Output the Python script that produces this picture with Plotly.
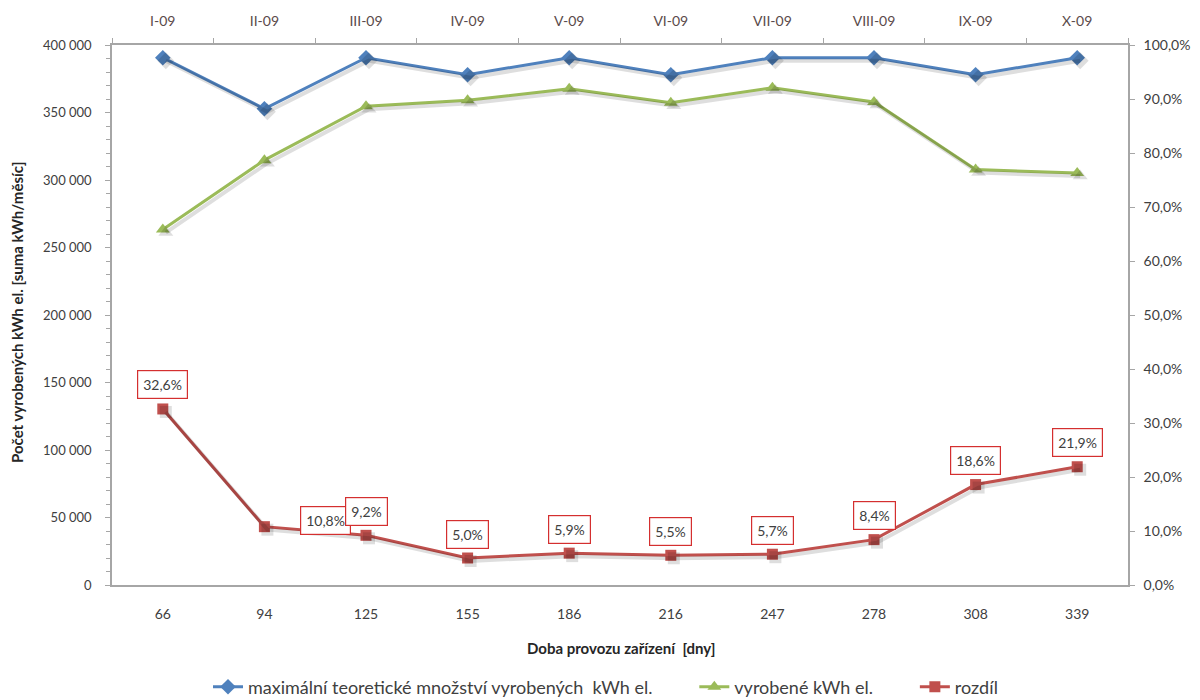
import plotly.graph_objects as go

# operating days (bottom axis) and months (top axis)
days = ["66", "94", "125", "155", "186", "216", "247", "278", "308", "339"]
months = ["I-09", "II-09", "III-09", "IV-09", "V-09", "VI-09", "VII-09", "VIII-09", "IX-09", "X-09"]

# kWh per month
max_kwh = [390600, 352800, 390600, 378000, 390600, 378000, 390600, 390600, 378000, 390600]
made_kwh = [263300, 314700, 354700, 359100, 367600, 357200, 368300, 357800, 307700, 305100]
# difference in percent (right axis)
diff_pct = [32.6, 10.8, 9.2, 5.0, 5.9, 5.5, 5.7, 8.4, 18.6, 21.9]

BLUE = "#4F81BD"
GREEN = "#9BBB59"
RED = "#C0504D"
AXIS = "#A6A6A6"
TXT = "#404040"
FONT = "Lato"

W, H = 1200, 700
L, R, T, B = 112, 69, 45, 112
PW = W - L - R
PH = H - T - B
SH = 3  # shadow offset in px

GAP = "\u00a0" * 8  # extra room between legend entries

fig = go.Figure()

series = [
    (max_kwh, "y", BLUE, "diamond", 12, "maximální teoretické množství vyrobených  kWh el." + GAP),
    (made_kwh, "y", GREEN, "triangle-up", 12, "vyrobené kWh el." + GAP),
    ([v / 100 for v in diff_pct], "y2", RED, "square", 11, "rozdíl"),
]

# soft drop shadows drawn on slightly offset axes
for vals, yax, col, sym, size, name in series:
    fig.add_trace(go.Scatter(
        x=days, y=vals, mode="lines+markers",
        xaxis="x3", yaxis="y3" if yax == "y" else "y4",
        line=dict(color="rgba(0,0,0,0.13)", width=4),
        marker=dict(symbol=sym, size=size + 1, color="rgba(0,0,0,0.13)"),
        showlegend=False, hoverinfo="skip",
    ))

for vals, yax, col, sym, size, name in series:
    fig.add_trace(go.Scatter(
        x=days, y=vals, mode="lines+markers", name=name, yaxis=yax,
        line=dict(color=col, width=3),
        marker=dict(symbol=sym, size=size, color=col),
    ))

# invisible trace to carry the month axis on top
fig.add_trace(go.Scatter(x=months, y=max_kwh, xaxis="x2", yaxis="y",
                         mode="markers", marker=dict(opacity=0),
                         showlegend=False, hoverinfo="skip"))

# value labels for the difference series
shifts = {1: (61, 6)}
for i, v in enumerate(diff_pct):
    xs, ys = shifts.get(i, (0, 24))
    fig.add_annotation(
        x=i, y=v / 100, xref="x", yref="y2",
        text=f"{v:.1f}".replace(".", ",") + "%",
        showarrow=False, xshift=xs, yshift=ys,
        bgcolor="white", bordercolor="#D42F2F", borderwidth=1.2, borderpad=5,
        font=dict(family=FONT, size=14, color=TXT),
    )

# axis titles
fig.add_annotation(
    x=(621 - L) / PW, y=-60 / PH, xref="paper", yref="paper",
    text="<b>Doba provozu zařízení  [dny]</b>", showarrow=False,
    font=dict(family=FONT, size=15, color="#262626"), xanchor="center", yanchor="middle",
)
fig.add_annotation(
    x=(17 - L) / PW, y=(1 - (313 - T) / PH), xref="paper", yref="paper",
    text="<b>Počet vyrobených kWh el. [suma kWh/měsíc]</b>", showarrow=False, textangle=-90,
    font=dict(family=FONT, size=15, color="#262626"), xanchor="center", yanchor="middle",
)

xdom = [0, (PW - SH) / PW]
ydom = [SH / PH, 1]
xdom_s = [SH / PW, 1]
ydom_s = [0, (PH - SH) / PH]

fig.update_layout(
    width=W, height=H,
    margin=dict(l=L, r=R, t=T, b=B, autoexpand=False),
    paper_bgcolor="white", plot_bgcolor="rgba(0,0,0,0)",
    separators=", ",
    font=dict(family=FONT, size=14, color=TXT),
    showlegend=True,
    legend=dict(orientation="h", x=(606 - L) / PW, xanchor="center", y=-99 / PH,
                yanchor="middle", font=dict(family=FONT, size=18, color=TXT),
                traceorder="normal"),
    xaxis=dict(
        domain=xdom, type="category", categoryorder="array", categoryarray=days,
        range=[-0.5, 9.5], showline=True, linecolor=AXIS, linewidth=1.5,
        ticks="", ticklabelstandoff=15, showgrid=False, zeroline=False, anchor="y",
        automargin=False, tickfont=dict(family=FONT, size=14, color=TXT),
    ),
    xaxis2=dict(
        domain=xdom, type="category", categoryorder="array", categoryarray=months,
        range=[-0.5, 9.5], overlaying="x", side="top", anchor="y",
        showline=True, linecolor=AXIS, linewidth=1.5, ticks="outside", tickson="boundaries",
        ticklen=5, tickcolor=AXIS, ticklabelstandoff=12, showgrid=False, automargin=False,
        tickfont=dict(family=FONT, size=14, color="#5A4A4A"),
    ),
    yaxis=dict(
        domain=ydom, range=[0, 400000], dtick=50000, tickformat=",d",
        showline=True, linecolor=AXIS, linewidth=1.5, ticks="outside", ticklen=5,
        tickcolor=AXIS, showgrid=False, zeroline=False, anchor="x", automargin=False,
        minor=dict(dtick=10000, ticks="outside", ticklen=4, tickcolor=AXIS, showgrid=False),
        ticklabelstandoff=11,
        tickfont=dict(family=FONT, size=13, color=TXT),
    ),
    yaxis2=dict(
        domain=ydom, range=[0, 1], dtick=0.1, tickformat=".1%", overlaying="y", side="right",
        anchor="x", showline=True, linecolor=AXIS, linewidth=1.5, ticks="outside", ticklen=5,
        tickcolor=AXIS, showgrid=False, zeroline=False, ticklabelstandoff=6, automargin=False,
        tickfont=dict(family=FONT, size=14, color=TXT),
    ),
    xaxis3=dict(domain=xdom_s, type="category", categoryorder="array", categoryarray=days,
                range=[-0.5, 9.5], visible=False, anchor="y3"),
    yaxis3=dict(domain=ydom_s, range=[0, 400000], visible=False, anchor="x3"),
    yaxis4=dict(domain=ydom_s, range=[0, 1], visible=False, anchor="x3", overlaying="y3"),
)

fig.write_html("out.html")
